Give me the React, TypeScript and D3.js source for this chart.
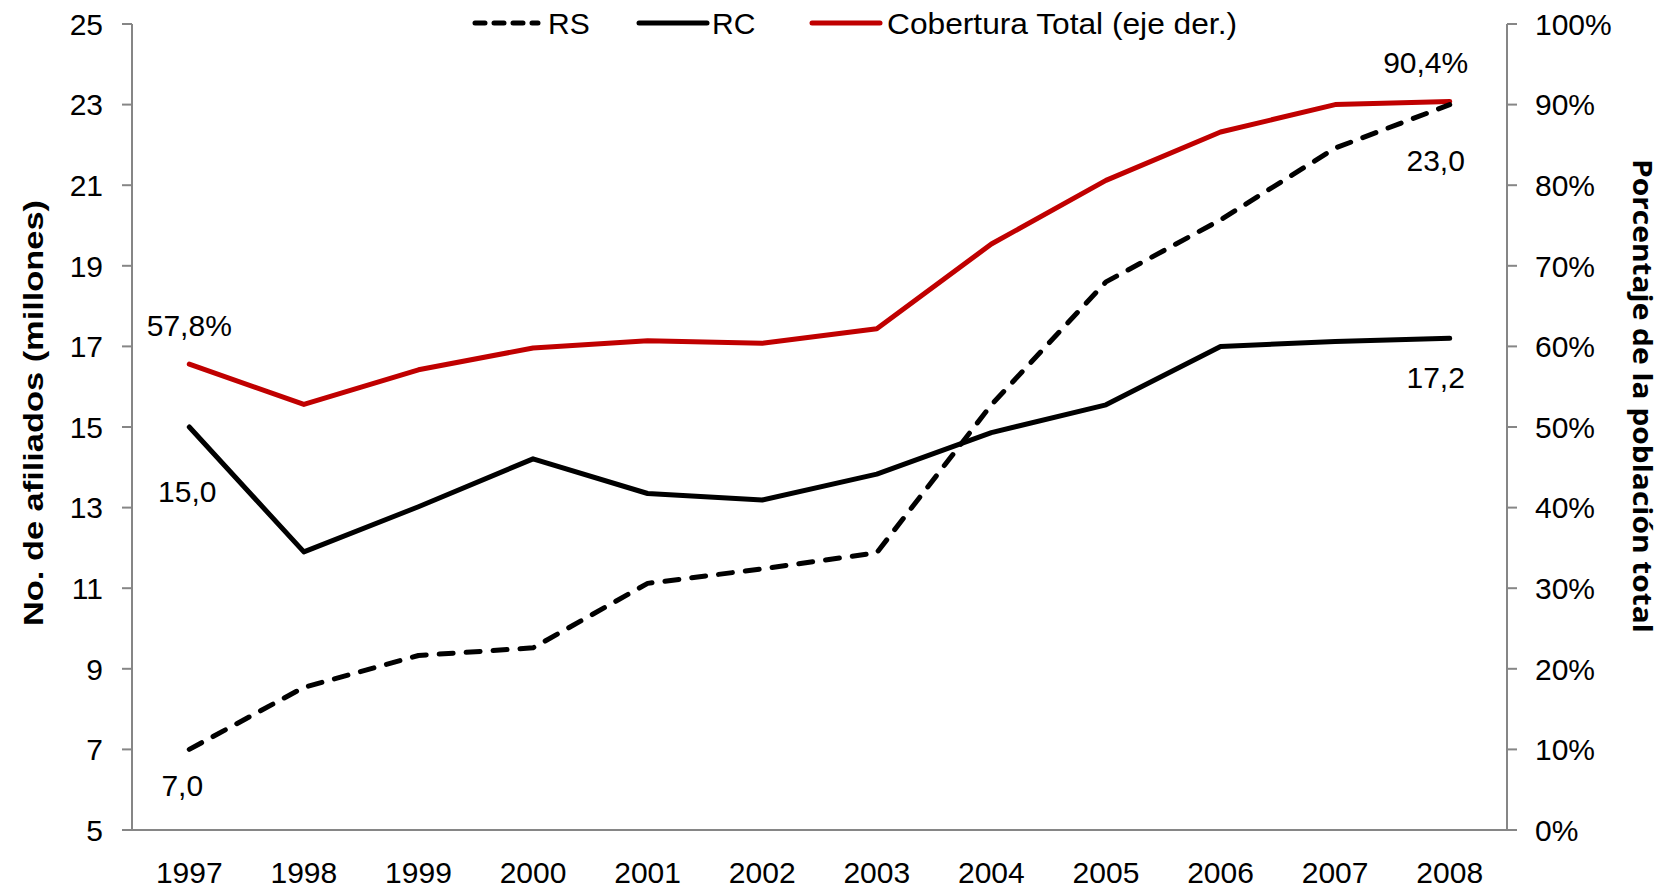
import React from "react";
import * as d3 from "d3";

const years = ["1997","1998","1999","2000","2001","2002","2003","2004","2005","2006","2007","2008"];
const rs = [7.0, 8.54, 9.33, 9.52, 11.12, 11.48, 11.88, 15.55, 18.6, 20.14, 21.92, 23.0];
const rc = [15.0, 11.9, 13.02, 14.21, 13.35, 13.19, 13.83, 14.86, 15.55, 17.0, 17.12, 17.2];
const cobertura = [57.8, 52.8, 57.1, 59.8, 60.7, 60.4, 62.2, 72.7, 80.6, 86.6, 90.0, 90.4];
const leftTicks = [5, 7, 9, 11, 13, 15, 17, 19, 21, 23, 25];
const rightTicks = [0, 10, 20, 30, 40, 50, 60, 70, 80, 90, 100];

const W = 1663, H = 891;
const M = { left: 132, right: 1507, top: 24, bottom: 830 };
const FONT = "'Liberation Sans', Arial, sans-serif";
const AXIS = "#868686";
const RED = "#C00000";
const FS = 30;

export default function App() {
  const x = d3.scaleBand<string>().domain(years).range([M.left, M.right]);
  const cx = (y: string) => (x(y) as number) + x.bandwidth() / 2;
  const yL = d3.scaleLinear().domain([5, 25]).range([M.bottom, M.top]);
  const yR = d3.scaleLinear().domain([0, 100]).range([M.bottom, M.top]);

  const lineL = d3.line<number>().x((_, i) => cx(years[i])).y((d) => yL(d));
  const lineR = d3.line<number>().x((_, i) => cx(years[i])).y((d) => yR(d));

  const last = years.length - 1;
  const fmt = (v: number) => v.toFixed(1).replace(".", ",");

  return (
    <div style={{ position: "absolute", left: 0, top: 0 }}>
      <svg width={W} height={H} style={{ display: "block", background: "#fff" }} fontFamily={FONT}>
        {/* left axis */}
        <line x1={M.left} x2={M.left} y1={M.top} y2={M.bottom} stroke={AXIS} strokeWidth={2} />
        {leftTicks.map((t) => (
          <g key={"l" + t}>
            <line x1={M.left - 10} x2={M.left} y1={yL(t)} y2={yL(t)} stroke={AXIS} strokeWidth={2} />
            <text x={103} y={yL(t)} dy="0.36em" textAnchor="end" fontSize={FS} fill="#000">{t}</text>
          </g>
        ))}
        {/* right axis */}
        <line x1={M.right} x2={M.right} y1={M.top} y2={M.bottom} stroke={AXIS} strokeWidth={2} />
        {rightTicks.map((t) => (
          <g key={"r" + t}>
            <line x1={M.right} x2={M.right + 10} y1={yR(t)} y2={yR(t)} stroke={AXIS} strokeWidth={2} />
            <text x={1535} y={yR(t)} dy="0.36em" textAnchor="start" fontSize={FS} fill="#000">{t + "%"}</text>
          </g>
        ))}
        {/* bottom axis */}
        <line x1={M.left} x2={M.right} y1={M.bottom} y2={M.bottom} stroke={AXIS} strokeWidth={2} />
        {years.map((y) => (
          <text key={y} x={cx(y)} y={883} textAnchor="middle" fontSize={FS} fill="#000">{y}</text>
        ))}

        {/* axis titles */}
        <text transform="translate(43,413) rotate(-90)" textAnchor="middle" fontSize={28} fontWeight="bold" fill="#000"
          textLength={426} lengthAdjust="spacingAndGlyphs">
          No. de afiliados (millones)
        </text>
        <text transform="translate(1633,396) rotate(90)" textAnchor="middle" fontSize={27} fontWeight="bold" fill="#000"
          fontFamily="'Open Sans', 'DejaVu Sans', sans-serif" textLength={474} lengthAdjust="spacingAndGlyphs">
          Porcentaje de la población total
        </text>

        {/* series */}
        <path d={lineR(cobertura) || ""} fill="none" stroke={RED} strokeWidth={5} strokeLinejoin="round" strokeLinecap="round" />
        <path d={lineL(rc) || ""} fill="none" stroke="#000" strokeWidth={5} strokeLinejoin="round" strokeLinecap="round" />
        <path d={lineL(rs) || ""} fill="none" stroke="#000" strokeWidth={5} strokeDasharray="14 13" strokeLinecap="round" strokeLinejoin="round" />

        {/* data labels */}
        <text x={cx(years[0])} y={yR(cobertura[0]) - 39} dy="0.36em" textAnchor="middle" fontSize={FS}>{fmt(cobertura[0]) + "%"}</text>
        <text x={cx(years[0]) - 2} y={yL(rc[0]) + 64} dy="0.36em" textAnchor="middle" fontSize={FS}>{fmt(rc[0])}</text>
        <text x={cx(years[0]) - 7} y={yL(rs[0]) + 36} dy="0.36em" textAnchor="middle" fontSize={FS}>{fmt(rs[0])}</text>
        <text x={cx(years[last]) - 24} y={yR(cobertura[last]) - 39} dy="0.36em" textAnchor="middle" fontSize={FS}>{fmt(cobertura[last]) + "%"}</text>
        <text x={cx(years[last]) - 14} y={yL(rs[last]) + 56} dy="0.36em" textAnchor="middle" fontSize={FS}>{fmt(rs[last])}</text>
        <text x={cx(years[last]) - 14} y={yL(rc[last]) + 39} dy="0.36em" textAnchor="middle" fontSize={FS}>{fmt(rc[last])}</text>

        {/* legend */}
        <g>
          <line x1={475} x2={538} y1={23} y2={23} stroke="#000" strokeWidth={5} strokeDasharray="10 9" strokeLinecap="round" />
          <text x={548} y={23} dy="0.36em" fontSize={FS}>RS</text>
          <line x1={639} x2={707} y1={23} y2={23} stroke="#000" strokeWidth={5} strokeLinecap="round" />
          <text x={712} y={23} dy="0.36em" fontSize={FS}>RC</text>
          <line x1={812} x2={880} y1={23} y2={23} stroke={RED} strokeWidth={5} strokeLinecap="round" />
          <text x={887} y={23} dy="0.36em" fontSize={FS} textLength={350} lengthAdjust="spacingAndGlyphs">Cobertura Total (eje der.)</text>
        </g>
      </svg>
    </div>
  );
}
